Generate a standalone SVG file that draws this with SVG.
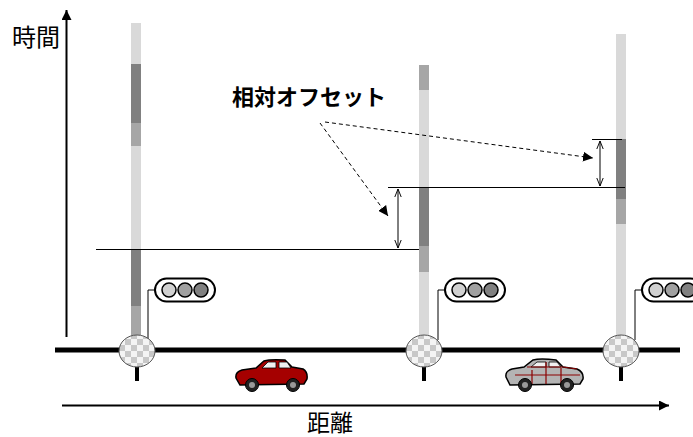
<svg xmlns="http://www.w3.org/2000/svg" width="693" height="437" viewBox="0 0 693 437">
  <defs>
    <style>
      .lbl { font-family: "Liberation Sans", "Noto Sans CJK JP", sans-serif; fill: #000; }
      .thin { stroke: #000; stroke-width: 1; fill: none; }
      .dash { stroke: #000; stroke-width: 1; stroke-dasharray: 4 3; fill: none; }
      .light { fill: #d9d9d9; }
      .mid { fill: #a6a6a6; }
      .dark { fill: #808080; }
      .lamp { stroke: #000; stroke-width: 1.5; }
      .wheel { fill: #222; stroke: #000; }
      .hub { fill: #999; }
    </style>
    <pattern id="checker" width="12" height="12" patternUnits="userSpaceOnUse">
      <rect width="12" height="12" fill="#f4f4f4"/>
      <rect width="6" height="6" fill="#c8c8c8"/>
      <rect x="6" y="6" width="6" height="6" fill="#c8c8c8"/>
    </pattern>
    <marker id="head" viewBox="0 0 10 10" refX="10" refY="5" markerWidth="10" markerHeight="10" markerUnits="userSpaceOnUse" orient="auto">
      <path d="M0,0 L10,5 L0,10 Z" fill="#000"/>
    </marker>
    <marker id="open" viewBox="0 0 10 10" refX="10" refY="5" markerWidth="8" markerHeight="8" markerUnits="userSpaceOnUse" orient="auto-start-reverse">
      <path d="M0,1 L10,5 L0,9" fill="none" stroke="#000" stroke-width="1.2"/>
    </marker>
    <g id="lightbox">
      <rect x="0" y="-11.5" width="60" height="23" rx="11.5" fill="#fff" stroke="#000" stroke-width="2"/>
      <circle class="lamp" cx="14" cy="0" r="7" fill="#d0d0d0"/>
      <circle class="lamp" cx="30" cy="0" r="7" fill="#a0a0a0"/>
      <circle class="lamp" cx="46" cy="0" r="7" fill="#808080"/>
    </g>
    <g id="junction">
      <line x1="0" y1="14" x2="0" y2="30" stroke="#000" stroke-width="4"/>
      <ellipse cx="0" cy="0" rx="18" ry="16" fill="url(#checker)" stroke="#555" stroke-width="1"/>
    </g>
  </defs>

  <rect width="693" height="437" fill="#fff"/>

  <!-- axes -->
  <g id="axes">
    <line x1="66.5" y1="337" x2="66.5" y2="10" stroke="#000" stroke-width="2" marker-end="url(#head)"/>
    <line x1="62" y1="405.5" x2="669" y2="405.5" stroke="#000" stroke-width="2" marker-end="url(#head)"/>
    <text class="lbl" x="12" y="46" font-size="24">時間</text>
    <text class="lbl" x="307" y="431" font-size="23">距離</text>
  </g>

  <!-- road -->
  <line id="road" x1="55" y1="350" x2="680" y2="350" stroke="#000" stroke-width="5"/>

  <!-- signal 1 -->
  <g id="signal1">
    <rect class="light" x="131" y="23" width="10" height="41"/>
    <rect class="dark" x="131" y="64" width="10" height="59"/>
    <rect class="mid" x="131" y="123" width="10" height="23"/>
    <rect class="light" x="131" y="146" width="10" height="103"/>
    <rect class="dark" x="131" y="249" width="10" height="57"/>
    <rect class="mid" x="131" y="306" width="10" height="32"/>
    <polyline class="thin" points="155,290 148,290 148,340"/>
    <use href="#lightbox" x="155" y="290"/>
    <use href="#junction" x="137" y="351"/>
  </g>

  <!-- signal 2 -->
  <g id="signal2">
    <rect class="mid" x="419" y="65" width="10" height="25"/>
    <rect class="light" x="419" y="90" width="10" height="97"/>
    <rect class="dark" x="419" y="187" width="10" height="59"/>
    <rect class="mid" x="419" y="246" width="10" height="26"/>
    <rect class="light" x="419" y="272" width="10" height="66"/>
    <polyline class="thin" points="445,290 438,290 438,340"/>
    <use href="#lightbox" x="445" y="290"/>
    <use href="#junction" x="424" y="351"/>
  </g>

  <!-- signal 3 -->
  <g id="signal3">
    <rect class="light" x="616" y="34" width="10" height="105"/>
    <rect class="dark" x="616" y="139" width="10" height="60"/>
    <rect class="mid" x="616" y="199" width="10" height="25"/>
    <rect class="light" x="616" y="224" width="10" height="114"/>
    <polyline class="thin" points="642,290 635,290 635,340"/>
    <use href="#lightbox" x="642" y="290"/>
    <use href="#junction" x="621" y="351"/>
  </g>

  <!-- offsets -->
  <g id="connectors">
    <line class="thin" x1="96" y1="249.5" x2="419" y2="249.5"/>
    <line class="thin" x1="388" y1="187.5" x2="625" y2="187.5"/>
    <line class="thin" x1="592" y1="139.5" x2="622" y2="139.5"/>
    <line class="thin" x1="398" y1="189" x2="398" y2="248" marker-start="url(#open)" marker-end="url(#open)"/>
    <line class="thin" x1="600" y1="141" x2="600" y2="186" marker-start="url(#open)" marker-end="url(#open)"/>
    <line class="dash" x1="325" y1="122" x2="593" y2="158" marker-end="url(#head)"/>
    <line class="dash" x1="320" y1="123" x2="388" y2="216" marker-end="url(#head)"/>
  </g>

  <text id="offset-label" class="lbl" x="232" y="105" font-size="22" font-weight="bold">相対オフセット</text>

  <!-- red car -->
  <g id="car1">
    <path d="M236,378 Q235,372 242,370 L256,368 L264,361 Q270,359 285,360 L292,367 L303,369 Q308,372 307,379 L304,384 L240,385 Z" fill="#a50000" stroke="#000" stroke-width="1.5"/>
    <path d="M262,368 L268,362 L276,362 L276,368 Z M279,362 L287,362 L291,368 L279,368 Z" fill="#f0f0f0" stroke="#000" stroke-width="0.8"/>
    <circle class="wheel" cx="252" cy="385" r="6.5"/>
    <circle class="hub" cx="252" cy="385" r="3"/>
    <circle class="wheel" cx="293" cy="385" r="6.5"/>
    <circle class="hub" cx="293" cy="385" r="3"/>
  </g>

  <!-- grey car -->
  <g id="car2">
    <path d="M506,377 Q505,371 512,369 L524,367 L533,360 Q540,358 556,360 L563,367 L577,369 Q584,372 583,379 L580,384 L510,385 Z" fill="#b4b4b4" stroke="#000" stroke-width="1.5"/>
    <path d="M531,367 L537,362 L546,362 L546,367 Z M549,362 L557,362 L561,367 L549,367 Z" fill="#f0f0f0" stroke="#000" stroke-width="0.8"/>
    <path d="M527,367 L563,367 L577,369 M546,362 L546,384 M532,370 L532,384 M561,368 L561,384 M515,375 L580,375" fill="none" stroke="#8b0000" stroke-width="1.2"/>
    <circle class="wheel" cx="525" cy="385" r="6.5"/>
    <circle class="hub" cx="525" cy="385" r="3"/>
    <circle class="wheel" cx="567" cy="385" r="6.5"/>
    <circle class="hub" cx="567" cy="385" r="3"/>
  </g>
</svg>
